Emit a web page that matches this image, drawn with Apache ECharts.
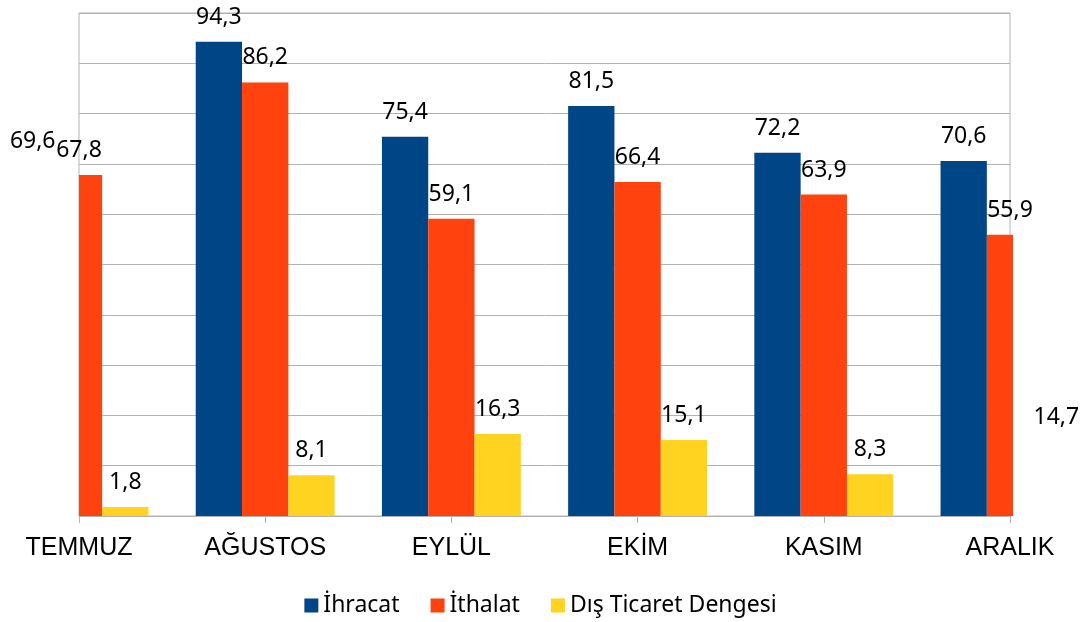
<!DOCTYPE html>
<html><head><meta charset="utf-8">
<script src="https://cdn.jsdelivr.net/npm/echarts@6/dist/echarts.min.js"></script>
<style>html,body{margin:0;padding:0;background:#fff}#c{width:1081px;height:622px}</style>
</head><body><div id="c"></div>
<script>
const categories = ['TEMMUZ', 'AĞUSTOS', 'EYLÜL', 'EKİM', 'KASIM', 'ARALIK'];
const seriesNames = ['İhracat', 'İthalat', 'Dış Ticaret Dengesi'];
const ihracat = [69.6, 94.3, 75.4, 81.5, 72.2, 70.6];
const ithalat = [67.8, 86.2, 59.1, 66.4, 63.9, 55.9];
const denge = [1.8, 8.1, 16.3, 15.1, 8.3, 14.7];
const colors = ['#004586', '#ff420e', '#ffd320'];

const BAR_FRAC = 0.2487;   // bar width as a share of the category step
const fmt = v => String(v).replace('.', ',');

// Bars centred on the category ticks (boundaryGap false) and clipped to the plot
// area, while their value labels stay visible even outside it.
function barSeries(idx, name, data, color) {
  return {
    name, type: 'custom', clip: false, z: 2,
    data: data.map((v, i) => [i, v]),
    encode: { x: 0, y: 1 },
    itemStyle: { color },
    renderItem(params, api) {
      const i = api.value(0), v = api.value(1);
      const top = api.coord([i, v]);
      const base = api.coord([i, 0]);
      const step = api.size([1, 0])[0];
      const bw = step * BAR_FRAC;
      const cx = top[0] + (idx - 1) * bw;
      const cs = params.coordSys;
      const rect = echarts.graphic.clipRectByRect(
        { x: cx - bw / 2, y: top[1], width: bw, height: base[1] - top[1] },
        { x: cs.x, y: cs.y, width: cs.width + 3, height: cs.height }
      );
      const children = [];
      if (rect) children.push({ type: 'rect', shape: rect, style: { fill: color } });
      children.push({
        type: 'text', x: cx, y: top[1] - 13, z2: 10,
        style: { text: fmt(v), align: 'center', verticalAlign: 'bottom',
          fontFamily: 'Noto Sans', fontSize: 23, fill: '#000' }
      });
      return { type: 'group', children };
    }
  };
}

const chart = echarts.init(document.getElementById('c'));
chart.setOption({
  animation: false,
  grid: { left: 79, right: 71, top: 13, bottom: 106, show: true,
    borderColor: '#b3b3b3', borderWidth: 1, backgroundColor: 'transparent' },
  legend: {
    data: seriesNames, bottom: 0, left: 'center',
    itemWidth: 14, itemHeight: 14, itemGap: 31, icon: 'rect',
    textStyle: { fontFamily: 'Noto Sans', fontSize: 23, color: '#000' }
  },
  xAxis: {
    type: 'category', data: categories, boundaryGap: false,
    axisLine: { lineStyle: { color: '#b3b3b3', width: 1 } },
    axisTick: { show: true, length: 7, lineStyle: { color: '#b3b3b3' } },
    axisLabel: { fontFamily: 'Liberation Sans', fontSize: 25, color: '#000', margin: 20 },
    splitLine: { show: false }
  },
  yAxis: {
    type: 'value', min: 0, max: 100, interval: 10,
    axisLine: { show: false }, axisTick: { show: false }, axisLabel: { show: false },
    splitLine: { lineStyle: { color: '#b3b3b3', width: 1 } }
  },
  series: [
    barSeries(0, seriesNames[0], ihracat, colors[0]),
    barSeries(1, seriesNames[1], ithalat, colors[1]),
    barSeries(2, seriesNames[2], denge, colors[2])
  ]
});
</script></body></html>
